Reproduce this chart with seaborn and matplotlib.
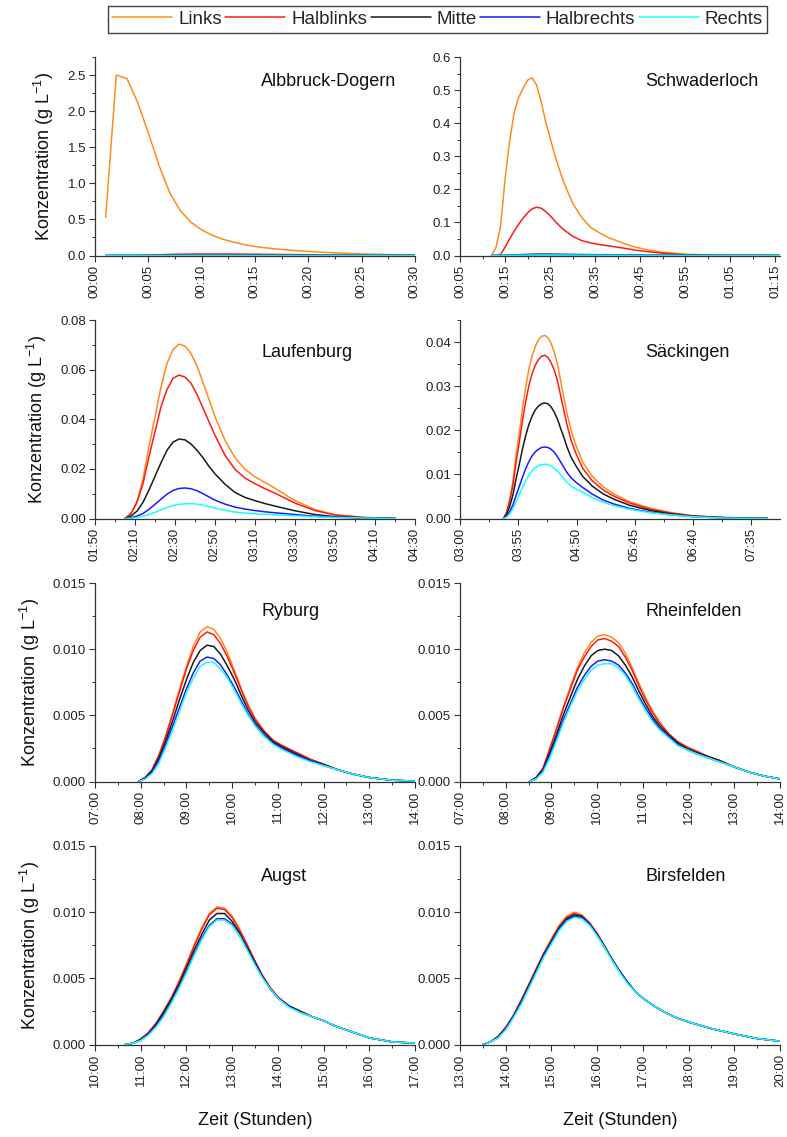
import numpy as np
import pandas as pd
import matplotlib
matplotlib.use("Agg")
import matplotlib.pyplot as plt
from matplotlib.lines import Line2D
from matplotlib.ticker import FuncFormatter, FormatStrFormatter, MultipleLocator
import seaborn as sns

sns.set_theme(style="ticks")
plt.rcParams['font.family'] = ['Liberation Sans', 'DejaVu Sans']
plt.rcParams['mathtext.fontset'] = 'custom'
plt.rcParams['mathtext.rm'] = 'Liberation Sans'
plt.rcParams['mathtext.it'] = 'Liberation Sans:italic'
plt.rcParams['mathtext.bf'] = 'Liberation Sans:bold'

series = ["Links", "Halblinks", "Mitte", "Halbrechts", "Rechts"]
colors = {"Links": "#FF8C1A", "Halblinks": "#FF1A1A", "Mitte": "#1A1A1A",
          "Halbrechts": "#1A1AFF", "Rechts": "#1AFFFF"}

# times in minutes after midnight, concentrations in g/L
albbruck_t = [1, 2, 3, 4, 5, 6, 7, 8, 9, 10, 11, 12, 13, 14, 15, 16, 17, 18, 20, 22, 24, 26, 28, 30]
albbruck = {
    "Links": [0.53, 2.5, 2.45, 2.12, 1.7, 1.25, 0.87, 0.62, 0.46, 0.355, 0.28, 0.225, 0.185, 0.152,
              0.125, 0.105, 0.09, 0.077, 0.056, 0.04, 0.027, 0.018, 0.012, 0.008],
    "Halblinks": [0, 0, 0, 0.002, 0.005, 0.01, 0.015, 0.018, 0.02, 0.021, 0.021, 0.021, 0.02, 0.019,
                  0.018, 0.016, 0.015, 0.013, 0.011, 0.008, 0.006, 0.004, 0.003, 0.002],
    "Mitte": [0, 0, 0, 0, 0.0005, 0.001, 0.0015, 0.002, 0.002, 0.002, 0.002, 0.002, 0.002, 0.0018,
              0.0016, 0.0014, 0.0012, 0.001, 0.0008, 0.0006, 0.0004, 0.0003, 0.0002, 0.0001],
    "Halbrechts": [0, 0, 0, 0, 0, 0.0002, 0.0004, 0.0005, 0.0006, 0.0006, 0.0006, 0.0006, 0.0005, 0.0005,
                   0.0004, 0.0004, 0.0003, 0.0003, 0.0002, 0.0002, 0.0001, 0.0001, 0.0001, 0],
    "Rechts": [0, 0, 0, 0, 0, 0.0001, 0.0002, 0.0003, 0.0003, 0.0003, 0.0003, 0.0003, 0.0003, 0.0002,
               0.0002, 0.0002, 0.0002, 0.0001, 0.0001, 0.0001, 0.0001, 0, 0, 0],
}

schwaderloch_t = [12, 13, 14, 15, 16, 17, 18, 19, 20, 21, 22, 23, 24, 25, 26, 27, 28, 30, 32, 34,
                  36, 38, 41, 44, 47, 50, 55, 60, 65, 76]
schwaderloch = {
    "Links": [0, 0.025, 0.088, 0.23, 0.345, 0.43, 0.478, 0.505, 0.53, 0.537, 0.515, 0.465, 0.405, 0.355,
              0.305, 0.262, 0.222, 0.158, 0.115, 0.085, 0.068, 0.054, 0.038, 0.025, 0.016, 0.01,
              0.004, 0.002, 0.001, 0.0003],
    "Halblinks": [0, 0, 0.003, 0.025, 0.05, 0.073, 0.094, 0.113, 0.129, 0.141, 0.146, 0.143, 0.133,
                  0.12, 0.105, 0.091, 0.078, 0.058, 0.045, 0.038, 0.033, 0.029, 0.023, 0.016, 0.011,
                  0.007, 0.002, 0.001, 0.0003, 0],
    "Mitte": [0, 0, 0, 0.0005, 0.001, 0.0016, 0.0022, 0.0028, 0.0033, 0.0037, 0.004, 0.0041, 0.0041,
              0.004, 0.0039, 0.0037, 0.0035, 0.0032, 0.0029, 0.0027, 0.0025, 0.0023, 0.002, 0.0017,
              0.0013, 0.001, 0.0006, 0.0003, 0.0001, 0],
    "Halbrechts": [0, 0, 0, 0.0003, 0.0006, 0.001, 0.0014, 0.0017, 0.002, 0.0023, 0.0024, 0.0025, 0.0025,
                   0.0024, 0.0023, 0.0022, 0.0021, 0.0019, 0.0017, 0.0016, 0.0015, 0.0014, 0.0012,
                   0.001, 0.0008, 0.0006, 0.0004, 0.0002, 0.0001, 0],
    "Rechts": [0, 0, 0, 0.0002, 0.0004, 0.0006, 0.0008, 0.001, 0.0012, 0.0013, 0.0014, 0.0015, 0.0015,
               0.0015, 0.0014, 0.0013, 0.0012, 0.0011, 0.001, 0.0009, 0.0009, 0.0008, 0.0007, 0.0006,
               0.0005, 0.0004, 0.0002, 0.0001, 0, 0],
}

laufenburg_t = [125, 128, 131, 134, 137, 140, 143, 146, 149, 152, 155, 158, 161, 164, 167, 170, 175,
                180, 185, 190, 195, 200, 210, 220, 230, 245, 260]
laufenburg = {
    "Links": [0, 0.002, 0.007, 0.016, 0.029, 0.041, 0.053, 0.0625, 0.068, 0.0703, 0.0695, 0.0665,
              0.0615, 0.0548, 0.048, 0.041, 0.0315, 0.0245, 0.0198, 0.0168, 0.0145, 0.0122, 0.0072,
              0.0036, 0.0015, 0.0004, 0.0001],
    "Halblinks": [0, 0.002, 0.0065, 0.014, 0.025, 0.035, 0.045, 0.052, 0.0565, 0.0578, 0.057, 0.0545,
                  0.05, 0.0445, 0.039, 0.0335, 0.0255, 0.0198, 0.0163, 0.014, 0.012, 0.0102, 0.0062,
                  0.0032, 0.0014, 0.0004, 0.0001],
    "Mitte": [0, 0.001, 0.003, 0.0065, 0.0115, 0.017, 0.0225, 0.0275, 0.0308, 0.032, 0.0317, 0.03,
              0.0275, 0.0245, 0.021, 0.018, 0.0138, 0.0105, 0.0085, 0.0072, 0.006, 0.005, 0.0031,
              0.0016, 0.0007, 0.0002, 0],
    "Halbrechts": [0, 0.0003, 0.001, 0.002, 0.0037, 0.0057, 0.0078, 0.0098, 0.0113, 0.0121, 0.0123,
                   0.012, 0.0112, 0.01, 0.0087, 0.0074, 0.0058, 0.0046, 0.0038, 0.0032, 0.0027, 0.0023,
                   0.0016, 0.0009, 0.0005, 0.0002, 0],
    "Rechts": [0, 0.0001, 0.0004, 0.0009, 0.0016, 0.0025, 0.0035, 0.0044, 0.0052, 0.0057, 0.0059, 0.006,
               0.0058, 0.0054, 0.0048, 0.0042, 0.0033, 0.0026, 0.0022, 0.0019, 0.0017, 0.0015, 0.0011,
               0.0007, 0.0004, 0.0002, 0],
}

saeckingen_t = [221, 224, 227, 230, 233, 236, 239, 242, 245, 248, 251, 254, 257, 260, 263, 266, 269,
                272, 275, 278, 281, 285, 290, 296, 305, 315, 325, 340, 360, 380, 400, 430, 470]
saeckingen = {
    "Links": [0, 0.0015, 0.0045, 0.0085, 0.0145, 0.0195, 0.025, 0.0298, 0.0338, 0.0368, 0.039, 0.0405,
              0.0413, 0.0415, 0.041, 0.0397, 0.0377, 0.035, 0.0312, 0.0275, 0.0238, 0.0198, 0.0162,
              0.0127, 0.0095, 0.0072, 0.0056, 0.0038, 0.0023, 0.0013, 0.0006, 0.0002, 0.0001],
    "Halblinks": [0, 0.0013, 0.004, 0.0076, 0.0129, 0.0174, 0.0223, 0.0265, 0.0301, 0.0328, 0.0347, 0.036,
                  0.0368, 0.037, 0.0365, 0.0353, 0.0336, 0.0312, 0.0278, 0.0245, 0.0212, 0.0176, 0.0144,
                  0.0113, 0.0085, 0.0065, 0.0051, 0.0035, 0.0021, 0.0012, 0.0006, 0.0002, 0.0001],
    "Mitte": [0, 0.0009, 0.0028, 0.0054, 0.0091, 0.0123, 0.0158, 0.0188, 0.0213, 0.0232, 0.0246, 0.0255,
              0.026, 0.0262, 0.026, 0.0253, 0.0241, 0.0225, 0.0204, 0.0184, 0.0162, 0.0138, 0.0117,
              0.0095, 0.0073, 0.0056, 0.0044, 0.003, 0.0018, 0.001, 0.0005, 0.0002, 0],
    "Halbrechts": [0, 0.0005, 0.0016, 0.0031, 0.0053, 0.0073, 0.0094, 0.0113, 0.0129, 0.0142, 0.0151, 0.0157,
                   0.0161, 0.0162, 0.0161, 0.0157, 0.015, 0.014, 0.0128, 0.0116, 0.0104, 0.0092, 0.0081,
                   0.007, 0.0055, 0.0042, 0.0033, 0.0023, 0.0014, 0.0008, 0.0004, 0.0001, 0],
    "Rechts": [0, 0.0003, 0.0011, 0.0022, 0.0038, 0.0054, 0.007, 0.0085, 0.0098, 0.0108, 0.0115, 0.012,
               0.0122, 0.0123, 0.0122, 0.0119, 0.0114, 0.0107, 0.0099, 0.009, 0.0082, 0.0073, 0.0066,
               0.0059, 0.0047, 0.0037, 0.0029, 0.0021, 0.0013, 0.0008, 0.0004, 0.0001, 0],
}

ryburg_t = [477, 486, 495, 504, 513, 522, 531, 540, 549, 558, 567, 576, 585, 594, 603, 612, 621, 630,
            642, 654, 666, 684, 702, 720, 738, 756, 780, 810, 840]
ryburg = {
    "Links": [0, 0.0003, 0.0009, 0.002, 0.0035, 0.0052, 0.007, 0.0087, 0.0102, 0.0113, 0.0117, 0.0115,
              0.0108, 0.0097, 0.0084, 0.007, 0.0058, 0.0048, 0.0038, 0.0031, 0.0027, 0.0022, 0.0017,
              0.0013, 0.0009, 0.0006, 0.0003, 0.0001, 0.00003],
    "Halblinks": [0, 0.0003, 0.0009, 0.002, 0.0034, 0.0051, 0.0068, 0.0085, 0.0099, 0.0109, 0.0113, 0.0111,
                  0.0104, 0.0094, 0.0082, 0.0069, 0.0057, 0.0047, 0.0038, 0.0031, 0.0027, 0.0022, 0.0017,
                  0.0013, 0.0009, 0.0006, 0.0003, 0.0001, 0.00003],
    "Mitte": [0, 0.0003, 0.0008, 0.0018, 0.0031, 0.0046, 0.0062, 0.0077, 0.009, 0.0099, 0.0103, 0.0102,
              0.0096, 0.0087, 0.0077, 0.0065, 0.0054, 0.0045, 0.0037, 0.003, 0.0026, 0.0021, 0.0016,
              0.0013, 0.0009, 0.0006, 0.0003, 0.0001, 0.00003],
    "Halbrechts": [0, 0.0002, 0.0007, 0.0016, 0.0028, 0.0042, 0.0056, 0.007, 0.0082, 0.0091, 0.0094, 0.0093,
                   0.0088, 0.008, 0.0071, 0.0061, 0.0051, 0.0043, 0.0035, 0.0029, 0.0025, 0.002, 0.0016,
                   0.0012, 0.0009, 0.0006, 0.0003, 0.0001, 0.00003],
    "Rechts": [0, 0.0002, 0.0006, 0.0014, 0.0026, 0.0039, 0.0053, 0.0067, 0.0078, 0.0087, 0.009, 0.009,
               0.0085, 0.0078, 0.0069, 0.0059, 0.005, 0.0042, 0.0034, 0.0028, 0.0024, 0.0019, 0.0015,
               0.0012, 0.0009, 0.0006, 0.0003, 0.0001, 0.00003],
}

rheinfelden_t = [511, 520, 529, 538, 547, 556, 565, 574, 583, 592, 601, 610, 619, 628, 637, 646, 655,
                 664, 673, 682, 694, 706, 718, 730, 745, 760, 780, 800, 820, 840]
rheinfelden = {
    "Links": [0, 0.0003, 0.001, 0.0025, 0.0041, 0.0057, 0.0072, 0.0086, 0.0097, 0.0105, 0.011, 0.0111,
              0.0109, 0.0105, 0.0097, 0.0086, 0.0074, 0.0063, 0.0053, 0.0045, 0.0036, 0.003, 0.0026,
              0.0023, 0.0019, 0.0016, 0.0011, 0.0007, 0.0004, 0.0002],
    "Halblinks": [0, 0.0003, 0.001, 0.0025, 0.004, 0.0056, 0.007, 0.0084, 0.0094, 0.0102, 0.0107, 0.0108,
                  0.0106, 0.0102, 0.0094, 0.0084, 0.0072, 0.0061, 0.0052, 0.0044, 0.0036, 0.003, 0.0026,
                  0.0023, 0.0019, 0.0016, 0.0011, 0.0007, 0.0004, 0.0002],
    "Mitte": [0, 0.0003, 0.0009, 0.0022, 0.0036, 0.0051, 0.0064, 0.0077, 0.0087, 0.0095, 0.0099, 0.01,
              0.0099, 0.0095, 0.0088, 0.0079, 0.0068, 0.0058, 0.0049, 0.0042, 0.0035, 0.0029, 0.0025,
              0.0022, 0.0019, 0.0016, 0.0011, 0.0007, 0.0004, 0.0002],
    "Halbrechts": [0, 0.0002, 0.0008, 0.002, 0.0033, 0.0047, 0.0059, 0.0071, 0.008, 0.0087, 0.0091, 0.0092,
                   0.0091, 0.0088, 0.0082, 0.0074, 0.0064, 0.0055, 0.0047, 0.004, 0.0034, 0.0028, 0.0024,
                   0.0021, 0.0018, 0.0015, 0.0011, 0.0007, 0.0004, 0.0002],
    "Rechts": [0, 0.0002, 0.0007, 0.0018, 0.0031, 0.0045, 0.0057, 0.0068, 0.0077, 0.0084, 0.0088, 0.0089,
               0.0089, 0.0086, 0.008, 0.0072, 0.0062, 0.0053, 0.0045, 0.0039, 0.0033, 0.0027, 0.0024,
               0.0021, 0.0018, 0.0015, 0.0011, 0.0007, 0.0004, 0.0002],
}

augst_t = [640, 650, 660, 670, 680, 690, 700, 710, 720, 730, 740, 750, 760, 770, 780, 790, 800, 810,
           820, 830, 840, 855, 870, 885, 900, 915, 930, 945, 960, 990, 1020]
augst = {
    "Links": [0, 0.0001, 0.0004, 0.0009, 0.0016, 0.0025, 0.0035, 0.0047, 0.0061, 0.0075, 0.0088, 0.0099,
              0.0104, 0.0103, 0.0097, 0.0087, 0.0075, 0.0063, 0.0052, 0.0043, 0.0036, 0.0029, 0.0025,
              0.0021, 0.0018, 0.0014, 0.0011, 0.0008, 0.0005, 0.0002, 0.0001],
    "Halblinks": [0, 0.0001, 0.0004, 0.0009, 0.0016, 0.0025, 0.0035, 0.0047, 0.006, 0.0074, 0.0087, 0.0098,
                  0.0103, 0.0102, 0.0096, 0.0086, 0.0075, 0.0063, 0.0052, 0.0043, 0.0036, 0.0029, 0.0025,
                  0.0021, 0.0018, 0.0014, 0.0011, 0.0008, 0.0005, 0.0002, 0.0001],
    "Mitte": [0, 0.0001, 0.0004, 0.0008, 0.0015, 0.0024, 0.0034, 0.0045, 0.0058, 0.0071, 0.0083, 0.0094,
              0.0099, 0.0099, 0.0093, 0.0084, 0.0073, 0.0062, 0.0051, 0.0042, 0.0035, 0.0029, 0.0025,
              0.0021, 0.0018, 0.0014, 0.0011, 0.0008, 0.0005, 0.0002, 0.0001],
    "Halbrechts": [0, 0.0001, 0.0003, 0.0008, 0.0014, 0.0022, 0.0032, 0.0043, 0.0055, 0.0068, 0.008, 0.009,
                   0.0095, 0.0095, 0.0091, 0.0082, 0.0072, 0.0061, 0.0051, 0.0042, 0.0035, 0.0029, 0.0024,
                   0.0021, 0.0018, 0.0014, 0.0011, 0.0008, 0.0005, 0.0002, 0.0001],
    "Rechts": [0, 0.0001, 0.0003, 0.0007, 0.0013, 0.0021, 0.0031, 0.0042, 0.0054, 0.0067, 0.0079, 0.0089,
               0.0094, 0.0094, 0.009, 0.0082, 0.0071, 0.006, 0.005, 0.0042, 0.0035, 0.0028, 0.0024,
               0.0021, 0.0018, 0.0014, 0.0011, 0.0008, 0.0005, 0.0002, 0.0001],
}

birsfelden_t = [810, 820, 830, 840, 850, 860, 870, 880, 890, 900, 910, 920, 930, 940, 950, 960, 970,
                980, 990, 1000, 1010, 1020, 1035, 1050, 1065, 1080, 1110, 1140, 1170, 1200]
birsfelden = {
    "Links": [0, 0.0002, 0.0006, 0.0013, 0.0022, 0.0033, 0.0045, 0.0057, 0.0069, 0.008, 0.009, 0.0097,
              0.01, 0.0098, 0.0092, 0.0084, 0.0074, 0.0064, 0.0055, 0.0047, 0.004, 0.0035, 0.0029,
              0.0024, 0.002, 0.0017, 0.0012, 0.0008, 0.00045, 0.00025],
    "Halblinks": [0, 0.0002, 0.0006, 0.0013, 0.0022, 0.0033, 0.0045, 0.0057, 0.0069, 0.0079, 0.0089, 0.0096,
                  0.0099, 0.0097, 0.0092, 0.0084, 0.0074, 0.0064, 0.0055, 0.0047, 0.004, 0.0035, 0.0029,
                  0.0024, 0.002, 0.0017, 0.0012, 0.0008, 0.00045, 0.00025],
    "Mitte": [0, 0.0002, 0.0006, 0.0012, 0.0021, 0.0032, 0.0044, 0.0056, 0.0068, 0.0078, 0.0088, 0.0095,
              0.0098, 0.0097, 0.0091, 0.0083, 0.0074, 0.0064, 0.0055, 0.0047, 0.004, 0.0035, 0.0029,
              0.0024, 0.002, 0.0017, 0.0012, 0.0008, 0.00045, 0.00025],
    "Halbrechts": [0, 0.0002, 0.0005, 0.0012, 0.0021, 0.0031, 0.0043, 0.0055, 0.0067, 0.0077, 0.0087, 0.0094,
                   0.0097, 0.0096, 0.0091, 0.0083, 0.0073, 0.0064, 0.0055, 0.0047, 0.004, 0.0035, 0.0029,
                   0.0024, 0.002, 0.0017, 0.0012, 0.0008, 0.00045, 0.00025],
    "Rechts": [0, 0.0002, 0.0005, 0.0011, 0.002, 0.003, 0.0042, 0.0054, 0.0066, 0.0076, 0.0086, 0.0093,
               0.0096, 0.0095, 0.009, 0.0082, 0.0073, 0.0063, 0.0054, 0.0046, 0.004, 0.0035, 0.0029,
               0.0024, 0.002, 0.0017, 0.0012, 0.0008, 0.00045, 0.00025],
}

# panel setup: (name, times, data, xlim, x major step, ylim, y major step, y format)
panels = [
    ("Albbruck-Dogern", albbruck_t, albbruck, (0, 30), 5, (0, 2.75), 0.5, '%.1f'),
    ("Schwaderloch", schwaderloch_t, schwaderloch, (5, 76), 10, (0, 0.6), 0.1, '%.1f'),
    ("Laufenburg", laufenburg_t, laufenburg, (110, 270), 20, (0, 0.08), 0.02, '%.2f'),
    ("Säckingen", saeckingen_t, saeckingen, (180, 482), 55, (0, 0.045), 0.01, '%.2f'),
    ("Ryburg", ryburg_t, ryburg, (420, 840), 60, (0, 0.015), 0.005, '%.3f'),
    ("Rheinfelden", rheinfelden_t, rheinfelden, (420, 840), 60, (0, 0.015), 0.005, '%.3f'),
    ("Augst", augst_t, augst, (600, 1020), 60, (0, 0.015), 0.005, '%.3f'),
    ("Birsfelden", birsfelden_t, birsfelden, (780, 1200), 60, (0, 0.015), 0.005, '%.3f'),
]
title_y = [0.876, 0.835, 0.855, 0.845]


def hhmm(x, pos):
    m = int(round(x))
    return f"{m // 60:02d}:{m % 60:02d}"


fig = plt.figure(figsize=(7.87, 11.37), dpi=100)
W, H = 787, 1137
col_x = [95, 460]
row_top = [57, 320, 583, 846]
ax_w, ax_h = 320, 198.5

for i, (name, t, data, xlim, xstep, ylim, ystep, yfmt) in enumerate(panels):
    row, col = divmod(i, 2)
    ax = fig.add_axes([col_x[col] / W, 1 - (row_top[row] + ax_h) / H, ax_w / W, ax_h / H])
    df = pd.DataFrame({"t": np.tile(t, len(series)),
                       "c": np.concatenate([data[s] for s in series]),
                       "Serie": np.repeat(series, len(t))})
    sns.lineplot(data=df, x="t", y="c", hue="Serie", hue_order=series, palette=colors,
                 legend=False, ax=ax, linewidth=1.1, estimator=None)
    ax.set_xlim(*xlim)
    ax.set_ylim(*ylim)
    ax.xaxis.set_major_locator(MultipleLocator(xstep, offset=xlim[0] % xstep))
    ax.xaxis.set_minor_locator(MultipleLocator(xstep / 2, offset=xlim[0] % (xstep / 2)))
    ax.xaxis.set_major_formatter(FuncFormatter(hhmm))
    ax.yaxis.set_major_locator(MultipleLocator(ystep))
    ax.yaxis.set_minor_locator(MultipleLocator(ystep / 2))
    ax.yaxis.set_major_formatter(FormatStrFormatter(yfmt))
    ax.tick_params(axis='x', labelrotation=90)
    ax.tick_params(which='major', length=4.5, width=0.8, color='#333333', labelsize=9.5,
                   labelcolor='#222222', pad=2)
    ax.tick_params(which='minor', length=2.5, width=0.7, color='#333333')
    for sp in ['top', 'right']:
        ax.spines[sp].set_visible(False)
    for sp in ['left', 'bottom']:
        ax.spines[sp].set_color('#333333')
        ax.spines[sp].set_linewidth(0.9)
    ax.set_xlabel("")
    ax.set_ylabel("")
    tx = 0.519 if col == 0 else 0.58
    ax.text(tx, title_y[row], name, transform=ax.transAxes, ha='left', va='center',
            fontsize=13, color='#111111')
    if col == 0:
        ax.set_ylabel("Konzentration (g L$^{-1}$)", fontsize=13, color='#111111', labelpad=8)
    if row == 3:
        ax.set_xlabel("Zeit (Stunden)", fontsize=13, color='#111111', labelpad=18)

handles = [Line2D([], [], color=colors[s], linewidth=1.1) for s in series]
leg = fig.legend(handles, series, loc='center', bbox_to_anchor=(0.556, 0.983), ncol=5,
                 fontsize=13.5, frameon=True, fancybox=False, edgecolor='#111111',
                 handlelength=3.2, handletextpad=0.3, columnspacing=0.2, borderpad=0.25,
                 borderaxespad=0)
leg.get_frame().set_linewidth(1.0)

fig.savefig("out.png", dpi=100)
